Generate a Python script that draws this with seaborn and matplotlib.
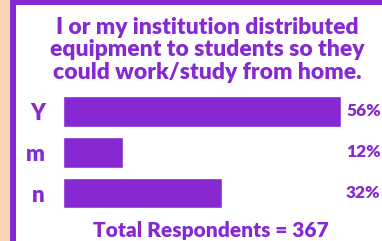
import matplotlib
matplotlib.use("Agg")
import matplotlib.pyplot as plt
import matplotlib.patches as mpatches
import matplotlib.transforms as mtransforms
import seaborn as sns
import pandas as pd

# data
answers = ["Y", "m", "n"]
shares = [56, 12, 32]
pct_labels = ["56%", "12%", "32%"]
title = "I or my institution distributed\nequipment to students so they\ncould work/study from home."
total_note = "Total Respondents = 367"

purple = "#8629D3"
peach = "#F9D5B8"

sns.set_theme(style="white")
plt.rcParams["font.family"] = ["Lato", "DejaVu Sans"]

df = pd.DataFrame({"answer": answers, "share": shares})

W, H = 382, 241
fig = plt.figure(figsize=(W / 100, H / 100), dpi=100)
fig.patch.set_facecolor("white")

# frame pieces: peach strip on the left, purple border left and top
fig.patches.append(mpatches.Rectangle((0, 0), 10 / W, 1, transform=fig.transFigure,
                                      facecolor=peach, edgecolor="none", zorder=0))
fig.patches.append(mpatches.Rectangle((10 / W, 0), 5.5 / W, 1, transform=fig.transFigure,
                                      facecolor=purple, edgecolor="none", zorder=0))
fig.patches.append(mpatches.Rectangle((10 / W, 1 - 5 / H), 1, 5 / H, transform=fig.transFigure,
                                      facecolor=purple, edgecolor="none", zorder=0))

# bar area
ax = fig.add_axes([63 / W, 1 - 213.4 / H, (341 - 63) / W, 122.3 / H])
sns.barplot(data=df, x="share", y="answer", color=purple, saturation=1,
            width=0.75, ax=ax)
ax.set_xlim(0, 56)
ax.set_ylim(2.5, -0.5)
ax.set_facecolor("none")
for s in ax.spines.values():
    s.set_visible(False)
ax.set_xticks([])
ax.set_xlabel("")
ax.set_ylabel("")
ax.tick_params(axis="y", length=0, pad=13, labelcolor=purple, labelsize=16)
for lab in ax.get_yticklabels():
    lab.set_fontweight("heavy")

# percent labels, kept just inside the right edge
trans = mtransforms.blended_transform_factory(ax.transAxes, ax.transData)
for i, txt in enumerate(pct_labels):
    ax.text(1.018, i, txt, transform=trans, ha="left", va="center",
            color=purple, fontsize=12.5, fontweight="heavy", clip_on=False)

fig.text(207.5 / W, 1 - 50 / H, title, ha="center", va="center", color=purple,
         fontsize=16.5, fontweight="heavy", linespacing=1.08)
fig.text(210.5 / W, 1 - 230 / H, total_note, ha="center", va="center",
         color=purple, fontsize=15, fontweight="heavy")

fig.savefig("out.png", dpi=100)
